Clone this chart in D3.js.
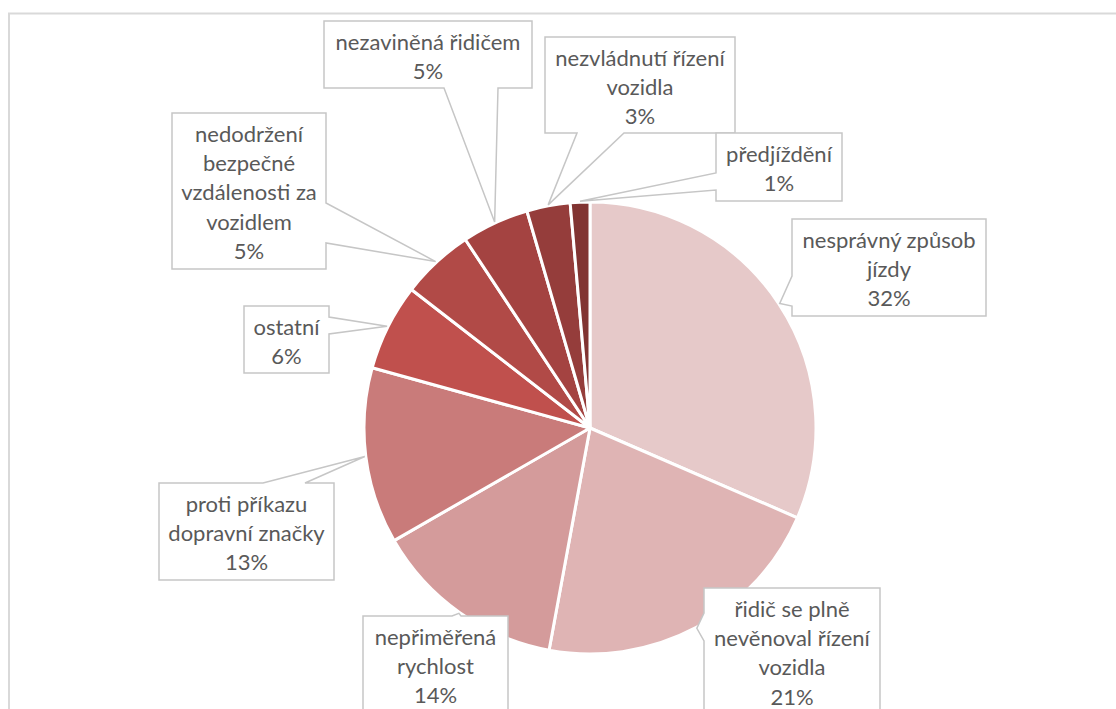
<!DOCTYPE html>
<html>
<head>
<meta charset="utf-8">
<script src="https://cdn.jsdelivr.net/npm/d3@7/dist/d3.min.js"></script>
<style>
  html, body { margin: 0; padding: 0; background: #fff; overflow: hidden; }
  svg { display: block; }
</style>
</head>
<body>
<svg id="chart" width="1116" height="709"></svg>
<script>
// ---- data ----
const categories = [
  "nesprávný způsob jízdy",
  "řidič se plně nevěnoval řízení vozidla",
  "nepřiměřená rychlost",
  "proti příkazu dopravní značky",
  "ostatní",
  "nedodržení bezpečné vzdálenosti za vozidlem",
  "nezaviněná řidičem",
  "nezvládnutí řízení vozidla",
  "předjíždění"
];
const values = [31.5, 21.4, 13.8, 12.6, 6.2, 5.2, 4.8, 3.1, 1.4];
// label text lines (as wrapped in the original)
const labelLines = [
  ["nesprávný způsob", "jízdy"],
  ["řidič se plně", "nevěnoval řízení", "vozidla"],
  ["nepřiměřená", "rychlost"],
  ["proti příkazu", "dopravní značky"],
  ["ostatní"],
  ["nedodržení", "bezpečné", "vzdálenosti za", "vozidlem"],
  ["nezaviněná řidičem"],
  ["nezvládnutí řízení", "vozidla"],
  ["předjíždění"]
];
const colors = ["#e6c9c9", "#dfb4b4", "#d49b9b", "#c97b7a", "#c0504d", "#b14a47", "#a44341", "#953d3b", "#813432"];

// ---- layout (callout boxes) ----
const boxes = [
  {x: 792, y: 219, w: 194, h: 97,  side: "left",   a: 276, b: 306},
  {x: 704, y: 588, w: 176, h: 160, side: "left",   a: 613, b: 641},
  {x: 363, y: 616, w: 145, h: 130, side: "top",    a: 452, b: 461},
  {x: 159, y: 483, w: 175, h: 97,  side: "top",    a: 263, b: 305},
  {x: 244, y: 306, w: 85,  h: 67,  side: "right",  a: 317, b: 334},
  {x: 172, y: 113, w: 154, h: 156, side: "right",  a: 203, b: 243},
  {x: 324, y: 21,  w: 208, h: 67,  side: "bottom", a: 444, b: 498},
  {x: 545, y: 37,  w: 190, h: 96,  side: "bottom", a: 577, b: 624},
  {x: 716, y: 133, w: 126, h: 68,  side: "left",   a: 173, b: 190}
];

const cx = 590, cy = 428, R = 226;
const lineH = 29.3;

const svg = d3.select("#chart");

// outer chart frame (partially visible)
svg.append("path")
  .attr("d", "M9,720 L9,13.5 L1130,13.5")
  .attr("fill", "none")
  .attr("stroke", "#d9d9d9")
  .attr("stroke-width", 2);

const pie = d3.pie().sort(null).value(d => d)(values);
const arc = d3.arc().innerRadius(0).outerRadius(R);

const g = svg.append("g").attr("transform", `translate(${cx},${cy})`);
g.selectAll("path.slice")
  .data(pie)
  .join("path")
  .attr("class", "slice")
  .attr("d", arc)
  .attr("fill", (d, i) => colors[i])
  .attr("stroke", "#ffffff")
  .attr("stroke-width", 3)
  .attr("stroke-linejoin", "round");

function calloutPath(b, tip) {
  const x0 = b.x, y0 = b.y, x1 = b.x + b.w, y1 = b.y + b.h;
  const p = [];
  p.push([x0, y0]);
  if (b.side === "top") { p.push([b.a, y0], tip, [b.b, y0]); }
  p.push([x1, y0]);
  if (b.side === "right") { p.push([x1, b.a], tip, [x1, b.b]); }
  p.push([x1, y1]);
  if (b.side === "bottom") { p.push([b.b, y1], tip, [b.a, y1]); }
  p.push([x0, y1]);
  if (b.side === "left") { p.push([x0, b.b], tip, [x0, b.a]); }
  return "M" + p.map(q => q[0] + "," + q[1]).join("L") + "Z";
}

const labels = svg.append("g");
pie.forEach((d, i) => {
  const b = boxes[i];
  const mid = (d.startAngle + d.endAngle) / 2;
  const tip = [cx + (R + 1) * Math.sin(mid), cy - (R + 1) * Math.cos(mid)];
  labels.append("path")
    .attr("d", calloutPath(b, tip))
    .attr("fill", "#ffffff")
    .attr("stroke", "#c6c6c6")
    .attr("stroke-width", 1.5)
    .attr("stroke-linejoin", "miter");
  const lines = labelLines[i].concat([Math.round(values[i]) + "%"]);
  const tcx = b.x + b.w / 2;
  const firstY = b.y + 21;
  const t = labels.append("text")
    .attr("text-anchor", "middle")
    .attr("font-family", "Lato, 'Open Sans', sans-serif")
    .attr("font-size", 22)
    .attr("fill", "#595959");
  lines.forEach((ln, k) => {
    t.append("tspan")
      .attr("x", tcx)
      .attr("y", firstY + k * lineH)
      .attr("dy", "0.35em")
      .text(ln);
  });
});
</script>
</body>
</html>
